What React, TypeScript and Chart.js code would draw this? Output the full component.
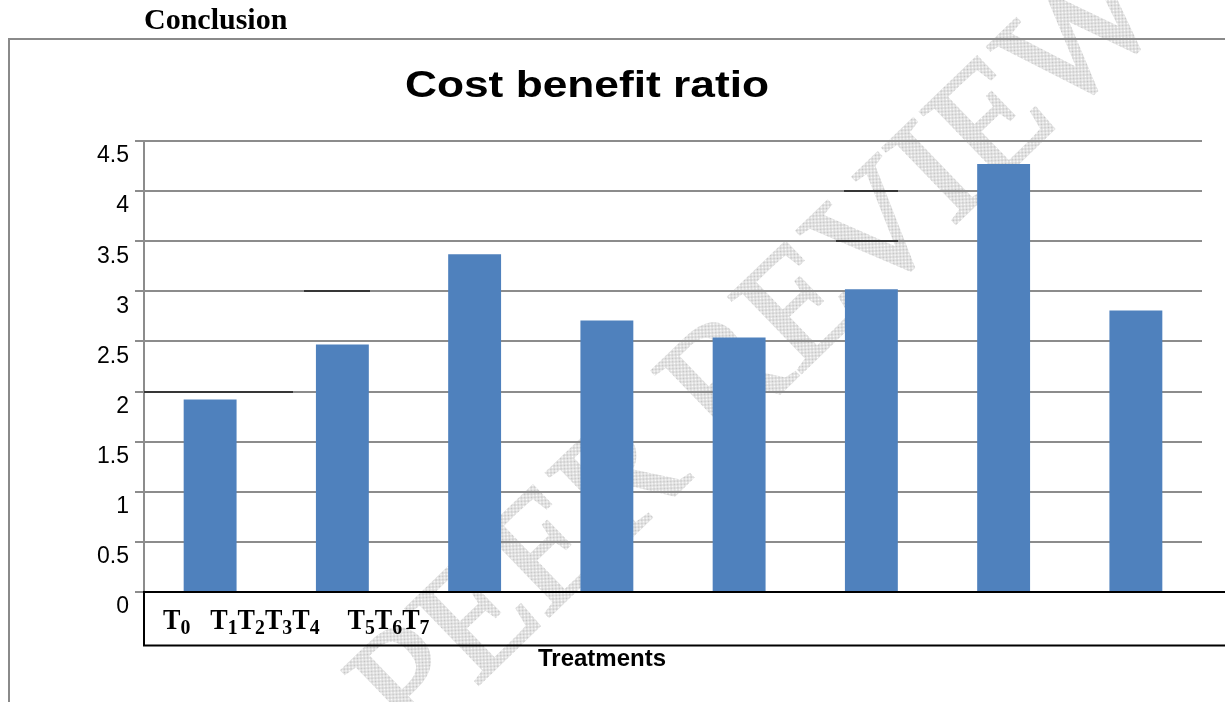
import React, { useEffect, useRef } from "react";
import { Chart, registerables } from "chart.js";

Chart.register(...registerables);

// ---- data ----
const categories = ["T0", "T1", "T2", "T3", "T4", "T5", "T6", "T7"];
const costBenefitRatio = [1.92, 2.47, 3.37, 2.71, 2.54, 3.02, 4.27, 2.81];
const yMin = 0;
const yMax = 4.5;
const yStep = 0.5;
const chartTitle = "Cost benefit ratio";
const xAxisTitle = "Treatments";
const headingText = "Conclusion";
const watermarkText = "PEER REVIEW";
// stray black rules in the scanned figure: [y value, from x, to x]
const strayRuleValues = [2, 3, 3.5, 4];

const SANS = '"Liberation Sans", Arial, sans-serif';
const SERIF = '"Liberation Serif", "Times New Roman", serif';

function makePattern(ctx: CanvasRenderingContext2D) {
  const c = document.createElement("canvas");
  c.width = 2;
  c.height = 2;
  const p = c.getContext("2d")!;
  p.fillStyle = "#ffffff";
  p.fillRect(0, 0, 2, 2);
  p.fillStyle = "#c2c2c2";
  p.fillRect(0, 0, 1, 1);
  p.fillRect(1, 1, 1, 1);
  return ctx.createPattern(c, "repeat");
}

const decorPlugin = {
  id: "decor",
  beforeDraw(chart: any) {
    const { ctx, width, height } = chart;
    ctx.save();
    ctx.fillStyle = "#ffffff";
    ctx.fillRect(0, 0, width, height);

    // watermark
    ctx.save();
    ctx.translate(761, 353);
    ctx.rotate((-44 * Math.PI) / 180);
    ctx.font = `160px ${SERIF}`;
    ctx.textAlign = "center";
    ctx.textBaseline = "middle";
    const pat = makePattern(ctx) || "#dedede";
    ctx.fillStyle = pat;
    ctx.strokeStyle = pat;
    ctx.lineWidth = 3;
    ctx.fillText(watermarkText, 0, 0);
    ctx.strokeText(watermarkText, 0, 0);
    ctx.restore();

    // outer page box
    ctx.strokeStyle = "#8a8a8a";
    ctx.lineWidth = 2;
    ctx.beginPath();
    ctx.moveTo(9, height);
    ctx.lineTo(9, 39);
    ctx.lineTo(width, 39);
    ctx.stroke();

    // heading
    ctx.fillStyle = "#000";
    ctx.textBaseline = "alphabetic";
    ctx.textAlign = "left";
    ctx.font = `bold 30px ${SERIF}`;
    ctx.fillText(headingText, 144, 29);

    // chart title (stretched horizontally like the reference)
    ctx.save();
    ctx.font = `bold 36px ${SANS}`;
    ctx.textAlign = "center";
    ctx.translate(587, 97);
    ctx.scale(1.23, 1);
    ctx.fillText(chartTitle, 0, 0);
    ctx.restore();

    ctx.restore();
  },
  beforeDatasetsDraw(chart: any) {
    const { ctx, scales } = chart;
    const y = scales.y;
    const spans: Record<number, [number, number]> = {
      2: [144, 293],
      3: [304, 370],
      3.5: [836, 898],
      4: [844, 898],
    };
    ctx.save();
    ctx.strokeStyle = "#1a1a1a";
    ctx.lineWidth = 1.5;
    ctx.beginPath();
    strayRuleValues.forEach((v) => {
      const py = Math.round(y.getPixelForValue(v));
      const [a, b] = spans[v];
      ctx.moveTo(a, py);
      ctx.lineTo(b, py);
    });
    ctx.stroke();
    ctx.restore();
  },
  afterDraw(chart: any) {
    const { ctx, width, chartArea: ca } = chart;
    ctx.save();
    // x-axis box
    ctx.strokeStyle = "#000";
    ctx.lineWidth = 2;
    ctx.beginPath();
    ctx.moveTo(ca.left - 1, ca.bottom);
    ctx.lineTo(width, ca.bottom);
    ctx.moveTo(ca.left - 1, ca.bottom + 53.5);
    ctx.lineTo(width, ca.bottom + 53.5);
    ctx.moveTo(ca.left, ca.bottom);
    ctx.lineTo(ca.left, ca.bottom + 53.5);
    ctx.stroke();

    // treatment labels with subscripts
    ctx.fillStyle = "#000";
    ctx.textAlign = "left";
    ctx.textBaseline = "alphabetic";
    const sx = 0.9;
    let x = ca.left + 19;
    const y = ca.bottom + 37;
    categories.forEach((lab, i) => {
      if (i === 1) x += 20;
      if (i === 5) x += 28;
      ctx.save();
      ctx.translate(x, y);
      ctx.scale(sx, 1);
      ctx.font = `bold 29px ${SERIF}`;
      ctx.fillText(lab[0], 0, 0);
      const w1 = ctx.measureText(lab[0]).width;
      ctx.font = `bold 22px ${SERIF}`;
      ctx.fillText(lab.slice(1), w1, 5);
      const w2 = ctx.measureText(lab.slice(1)).width;
      ctx.restore();
      x += (w1 + w2) * sx;
    });

    // axis title
    ctx.font = `bold 24px ${SANS}`;
    ctx.textAlign = "center";
    ctx.fillText(xAxisTitle, 602, ca.bottom + 74);
    ctx.restore();
  },
};

export default function App() {
  const ref = useRef<HTMLCanvasElement>(null);
  useEffect(() => {
    const chart = new Chart(ref.current!, {
      type: "bar",
      data: {
        labels: categories,
        datasets: [
          {
            label: chartTitle,
            data: costBenefitRatio,
            backgroundColor: "#4F81BD",
            borderWidth: 0,
            barPercentage: 0.4,
            categoryPercentage: 1.0,
          },
        ],
      },
      options: {
        animation: false,
        responsive: true,
        maintainAspectRatio: false,
        layout: { padding: { left: 0, right: 23, top: 141, bottom: 0 } },
        plugins: {
          legend: { display: false },
          title: { display: false },
          tooltip: { enabled: false },
        },
        scales: {
          x: {
            display: true,
            ticks: { display: false },
            grid: { display: false },
            border: { display: false },
            afterFit: (s: any) => {
              s.height = 110;
            },
          },
          y: {
            min: yMin,
            max: yMax,
            ticks: {
              stepSize: yStep,
              color: "#000",
              font: { family: SANS, size: 23 },
              padding: 6,
              labelOffset: 15,
              callback: (v: any) => String(Math.round(Number(v) * 10) / 10),
            },
            grid: { color: "#8c8c8c", lineWidth: 2, tickLength: 9, drawTicks: true },
            border: { color: "#8c8c8c", width: 2 },
            afterFit: (s: any) => {
              s.width = 144;
            },
          },
        },
      },
      plugins: [decorPlugin],
    });
    return () => chart.destroy();
  }, []);
  return (
    <div style={{ position: "fixed", left: 0, top: 0, width: 1225, height: 702, background: "#fff" }}>
      <canvas ref={ref} />
    </div>
  );
}
